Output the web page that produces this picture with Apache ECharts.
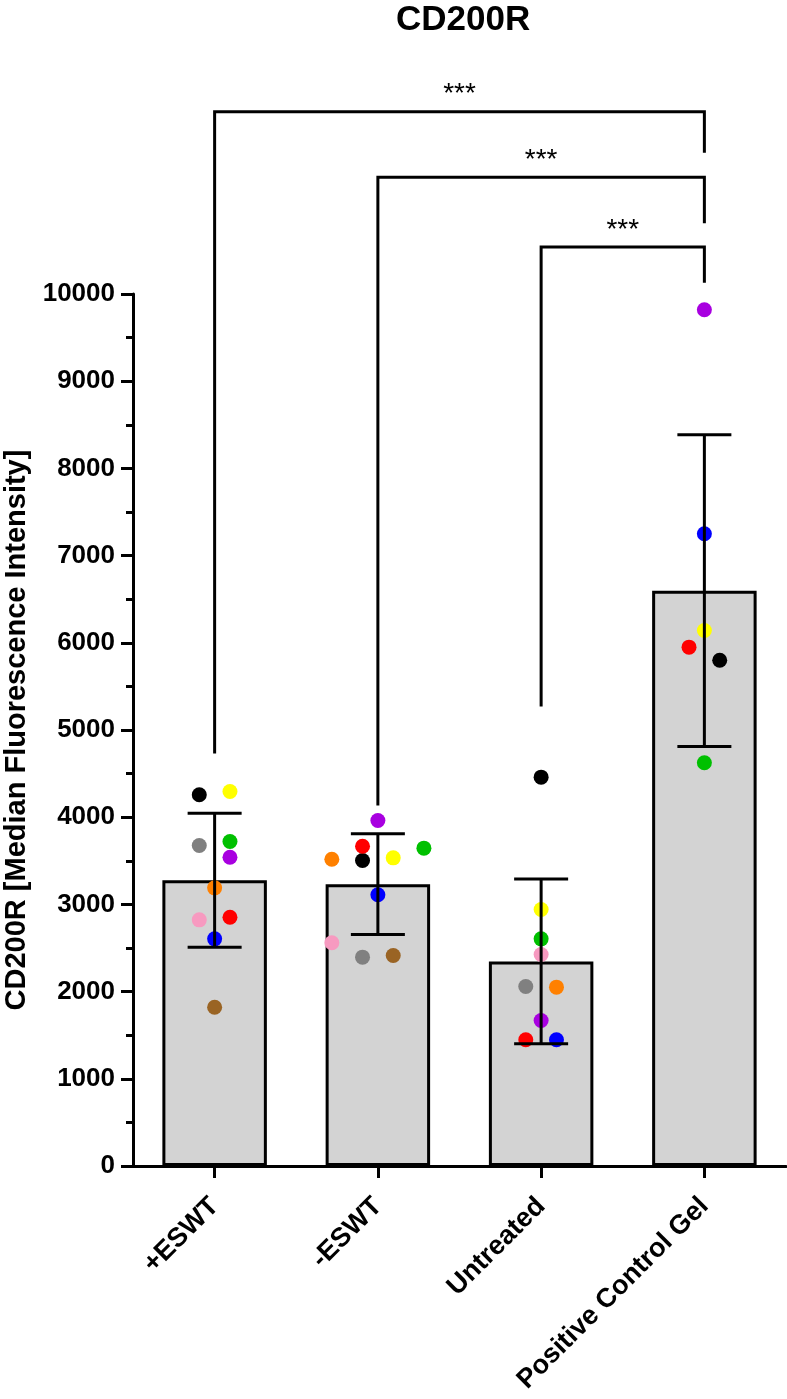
<!DOCTYPE html>
<html>
<head>
<meta charset="utf-8">
<script src="https://cdn.jsdelivr.net/npm/echarts@6/dist/echarts.min.js"></script>
<style>
    html, body { margin: 0; padding: 0; background: #fff; }
    #chart { width: 787px; height: 1399px; }
</style>
</head>
<body>
<div id="chart"></div>
<script>
// 分组
const categories = ['+ESWT', '-ESWT', 'Untreated', 'Positive Control Gel']
// 均值 / 标准差上下限
const meanValues = [3278, 3231, 2345, 6597]
const sdLower = [2509, 2655, 1401, 4810]
const sdUpper = [4046, 3810, 3290, 8385]

// 每个供体一个颜色
const donorNames = ['black', 'yellow', 'grey', 'green', 'purple', 'orange', 'pink', 'red', 'blue', 'brown']
const donorColors = ['#000000', '#ffff00', '#808080', '#00c000', '#a800e0', '#ff8000', '#f79ac0', '#ff0000', '#0000ff', '#9a6424']
const eswtPlus = [4257, 4295, 3675, 3721, 3541, 3190, 2823, 2853, 2605, 1821]
const eswtMinus = [3503, 3534, 2395, 3645, 3962, 3518, 2560, 3667, 3110, 2414]
const untreated = [4459, 2941, 2058, 2605, 1669, 2051, 2425, 1447, 1447, null]
const positiveGel = [5800, 6141, null, 4624, 9819, null, null, 5950, 7250, null]
const groupValues = [eswtPlus, eswtMinus, untreated, positiveGel]

// 散点横向错开 (单位: 步)
const jitterSteps = [
    [-1, 1, -1, 1, 1, 0, -1, 1, 0, 0],
    [-1, 1, -1, 3, 0, -3, -3, -1, 0, 1],
    [0, 0, -1, 0, 0, 1, 0, -1, 1, 0],
    [1, 0, 0, 0, 0, 0, 0, -1, 0, 0]
]
const jitterUnit = 0.094

// 显著性标记
const bracketFrom = [0, 1, 2]
const bracketTo = [3, 3, 3]
const bracketTop = [12090, 11340, 10540]
const bracketLeftEnd = [4730, 4135, 5270]
const bracketRightEnd = [11620, 10810, 10130]
const bracketText = ['***', '***', '***']

const yTicks = [0, 10000, 1000]

const font = '"Liberation Sans", Arial, sans-serif'

const chart = echarts.init(document.getElementById('chart'))

// 点数据
const dots = []
groupValues.forEach((vals, g) => {
    vals.forEach((v, i) => {
        if (v == null) return
        dots.push({
            value: [g + jitterSteps[g][i] * jitterUnit, v],
            name: donorNames[i],
            itemStyle: { color: donorColors[i], opacity: 1 }
        })
    })
})

const errData = categories.map((c, i) => [i, sdLower[i], sdUpper[i]])
const bracketData = bracketFrom.map((f, i) => [f, bracketTo[i], bracketTop[i], bracketLeftEnd[i], bracketRightEnd[i]])

const option = {
    animation: false,
    title: {
        text: 'CD200R',
        left: 391,
        top: -2,
        textStyle: { fontFamily: font, fontSize: 35, fontWeight: 'bold', color: '#000' }
    },
    grid: { left: 133, right: 1, top: 294, bottom: 233, containLabel: false, outerBoundsMode: 'none' },
    xAxis: [
        {
            type: 'category',
            data: categories,
            axisLine: { lineStyle: { color: '#000', width: 3 } },
            axisTick: { show: true, alignWithLabel: true, length: 12, lineStyle: { color: '#000', width: 3 } },
            axisLabel: {
                rotate: 45,
                interval: 0,
                margin: 36,
                color: '#000',
                fontFamily: font,
                fontSize: 27,
                fontWeight: 'bold'
            },
            splitLine: { show: false }
        },
        {
            type: 'value',
            min: -0.5,
            max: 3.5,
            show: false
        }
    ],
    yAxis: {
        type: 'value',
        min: yTicks[0],
        max: yTicks[1],
        interval: yTicks[2],
        name: 'CD200R [Median Fluorescence Intensity]',
        nameLocation: 'middle',
        nameGap: 100,
        nameTextStyle: { fontFamily: font, fontSize: 29, fontWeight: 'bold', color: '#000' },
        axisLine: { show: true, onZero: false, lineStyle: { color: '#000', width: 3 } },
        axisTick: { show: true, length: 12, lineStyle: { color: '#000', width: 3 } },
        minorTick: { show: true, splitNumber: 2, length: 7, lineStyle: { color: '#000', width: 3 } },
        splitLine: { show: false },
        axisLabel: {
            margin: 18,
            color: '#000',
            fontFamily: font,
            fontSize: 26,
            fontWeight: 'bold',
            formatter: v => String(v)
        }
    },
    series: [
        {
            type: 'bar',
            xAxisIndex: 0,
            data: meanValues,
            barWidth: '64%',
            z: 2,
            itemStyle: { color: '#d3d3d3', borderColor: '#000', borderWidth: 3 }
        },
        {
            type: 'scatter',
            xAxisIndex: 1,
            data: dots,
            symbolSize: 15,
            z: 3
        },
        {
            // 误差线
            type: 'custom',
            xAxisIndex: 0,
            z: 4,
            data: errData,
            renderItem: function (params, api) {
                const lo = api.coord([api.value(0), api.value(1)])
                const hi = api.coord([api.value(0), api.value(2)])
                const w = 27
                const style = { stroke: '#000', lineWidth: 3 }
                return {
                    type: 'group',
                    children: [
                        { type: 'line', shape: { x1: lo[0], y1: lo[1], x2: hi[0], y2: hi[1] }, style: style },
                        { type: 'line', shape: { x1: lo[0] - w, y1: lo[1], x2: lo[0] + w, y2: lo[1] }, style: style },
                        { type: 'line', shape: { x1: hi[0] - w, y1: hi[1], x2: hi[0] + w, y2: hi[1] }, style: style }
                    ]
                }
            }
        },
        {
            // 显著性括号
            type: 'custom',
            xAxisIndex: 1,
            z: 4,
            clip: false,
            data: bracketData,
            renderItem: function (params, api) {
                const top1 = api.coord([api.value(0), api.value(2)])
                const top2 = api.coord([api.value(1), api.value(2)])
                const leftEnd = api.coord([api.value(0), api.value(3)])
                const rightEnd = api.coord([api.value(1), api.value(4)])
                return {
                    type: 'group',
                    children: [
                        {
                            type: 'polyline',
                            shape: { points: [leftEnd, top1, top2, rightEnd] },
                            style: { stroke: '#000', lineWidth: 3, fill: null, lineJoin: 'miter' }
                        },
                        {
                            type: 'text',
                            x: (top1[0] + top2[0]) / 2,
                            y: top1[1] - 17,
                            style: {
                                text: bracketText[params.dataIndex],
                                fontFamily: font,
                                fontSize: 28,
                                fill: '#000',
                                align: 'center',
                                verticalAlign: 'middle'
                            }
                        }
                    ]
                }
            }
        }
    ]
}
chart.setOption(option)
window.addEventListener('resize', () => {
    chart.resize()
})
</script>
</body>
</html>
